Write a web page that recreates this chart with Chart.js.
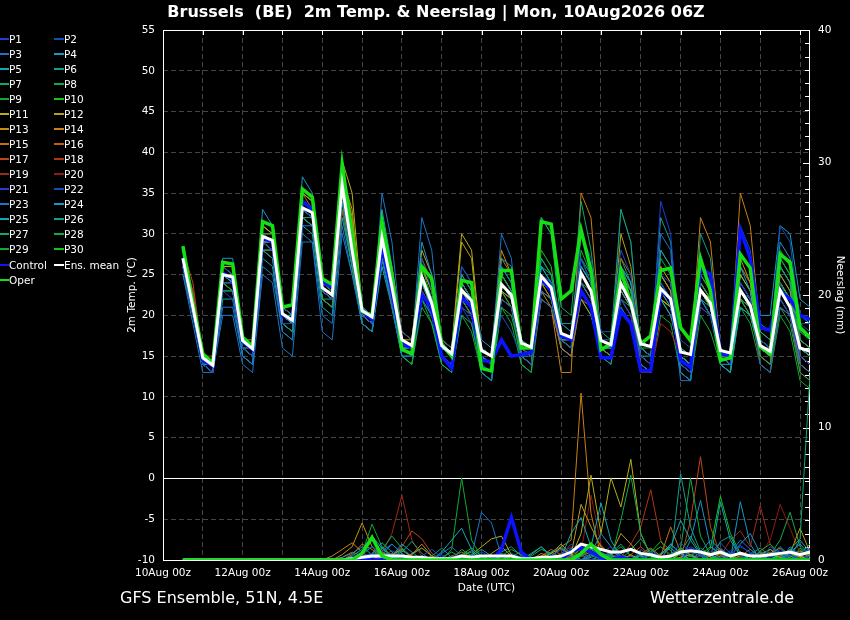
<!DOCTYPE html>
<html>
<head>
<meta charset="utf-8">
<title>Brussels 2m Temp. & Neerslag</title>
<script src="https://cdn.jsdelivr.net/npm/chart.js@4.4.1/dist/chart.umd.min.js"></script>
<style>
  body { margin: 0; background: #000; }
  #wrap { position: relative; width: 850px; height: 620px; background: #000; overflow: hidden;
          font-family: "DejaVu Sans", sans-serif; color: #fff; }
  #chart { position: absolute; left: 0; top: 0; }
  .title { position: absolute; top: 2px; left: 436px; transform: translateX(-50%); white-space: nowrap;
           font-weight: bold; font-size: 16px; line-height: 20px; }
  .foot { position: absolute; top: 588px; font-size: 16px; line-height: 20px; white-space: nowrap; }
  .leg { position: absolute; font-size: 10.5px; line-height: 14px; white-space: nowrap; padding-left: 10px; }
  .leg i { position: absolute; left: 0; top: 6px; width: 10px; height: 2px; }
</style>
</head>
<body>
<div id="wrap">
  <canvas id="chart" width="850" height="620"></canvas>
  <div class="title">Brussels&nbsp; (BE)&nbsp; 2m Temp. &amp; Neerslag | Mon, 10Aug2026 06Z</div>
  <div class="foot" style="left:120px">GFS Ensemble, 51N, 4.5E</div>
  <div class="foot" style="left:650px">Wetterzentrale.de</div>
  <div id="legend"></div>
</div>
<script>
// time axis: hours after 10Aug 00z, one value every 6 h starting 10Aug 12z
const firstHour = 12, stepHours = 6;
const tickLabels = ["10Aug 00z","12Aug 00z","14Aug 00z","16Aug 00z","18Aug 00z","20Aug 00z","22Aug 00z","24Aug 00z","26Aug 00z"];

const memberNames = ["P1","P2","P3","P4","P5","P6","P7","P8","P9","P10","P11","P12","P13","P14","P15",
  "P16","P17","P18","P19","P20","P21","P22","P23","P24","P25","P26","P27","P28","P29","P30"];

// 2m temperature (°C)
const tMean = [27,21, 14.8,13.9,25,24.7, 16.9,15.9,29.7,29.2, 20.2,19.4,33.2,32.6, 23.4,22.5,36,28, 20.6,19.8,29.5,23.5, 17,16.3,24.7,21.5, 16.3,15.3,23.1,21.8, 15.7,15,23.8,22.5, 16.6,16.1,24.8,23.4, 17.8,17.3,25.2,23, 16.9,16.4,23.9,21.5, 16.5,16.2,23.3,22, 15.5,15.2,23.1,21.5, 15.7,15.4,23.1,21.2, 16.3,15.6,23.1,21, 16,15.6];
const tOper = [28.5,21.5, 15.3,14.2,26.5,26.3, 17.3,16.2,31.5,31, 21,21.3,35.5,34.5, 24.5,23.8,38.5,30, 20.5,20,31.5,25, 15.8,15.3,26,24.5, 16.5,15,24.3,24, 13.5,13.2,25.5,25.5, 16,16,31.5,31.2, 22,23,30.5,25.5, 15.8,16.5,25.5,21.5, 16.5,17.5,25.5,25.8, 18.5,16.9,27,23, 14.5,14.8,27.5,25.8, 16.1,15.3,27.5,26.5, 18.5,17.3];
const tControl = [27,21, 14.5,13.8,25.2,24.5, 16.8,15.8,29.5,29, 20,19.5,34,33, 24,23.5,36.5,29, 20.5,19.5,28.5,23, 16.5,16,22.5,21, 15,13.5,22.2,21, 14.5,14.3,17,15, 15.2,15.5,24.5,23, 17.5,17,23,21, 14.8,14.8,20.5,19, 13.2,13.2,23,22, 14.5,13.6,25.8,25, 15.3,15,30.5,27, 18.5,18.2,23,22, 20,19.5];

const tP1 = [26,21, 14,13,24,24, 16,15,29,28, 19,19,33,32, 23,22,35,27, 20,19,28,22, 16,15,23,20, 15,14,21,20, 14,13,22,21, 16,15,25,24, 18,17,27,24, 17,16,22,20, 15,14,25,24, 14,13,21,20, 15,14,24,22, 17,16,22,20, 15,14];
const tP2 = [27,22, 15,14,26,25, 17,16,30,29, 21,20,34,33, 24,23,37,29, 21,20,31,25, 18,17,27,23, 17,16,26,24, 16,15,20,18, 15,14,22,21, 17,16,30,27, 18,18,28,25, 16,15,24,22, 17,16,26,24, 16,15,31,28, 17,16,24,21, 19,18];
const tP3 = [25,20, 14,13,21,21, 15,14,26,25, 18,17,30,29, 20,19,31,25, 19,18,27,21, 15,15,22,20, 15,14,24,22, 13,12,26,24, 15,15,23,22, 19,18,24,22, 17,17,21,19, 14,13,30,28, 13,12,22,20, 16,15,24,22, 14,13,21,20, 14,13];
const tP4 = [28,22, 15,14,27,27, 17,16,33,31, 21,20,37,35, 24,24,38,30, 21,20,33,26, 17,16,29,25, 16,15,25,23, 17,16,27,26, 16,16,25,24, 18,17,26,24, 15,14,23,21, 17,16,28,26, 15,14,26,24, 14,13,26,23, 18,17,29,27, 20,19];
const tP5 = [26,21, 14,14,25,24, 17,16,29,29, 20,19,33,32, 23,22,35,28, 20,19,27,22, 16,16,24,21, 15,14,23,21, 16,15,24,22, 16,16,26,24, 17,17,26,24, 16,16,24,22, 16,15,22,20, 16,15,22,21, 14,14,21,20, 16,15,22,20, 16,15];
const tP6 = [27,21, 15,14,23,23, 16,15,28,28, 20,19,32,31, 22,22,34,28, 21,20,29,23, 17,16,25,22, 16,15,22,21, 15,14,25,23, 17,16,27,25, 19,19,23,21, 17,16,26,23, 15,15,24,22, 14,13,30,27, 15,14,23,21, 17,16,26,24, 15,14];
const tP7 = [28,22, 15,14,26,25, 17,16,30,30, 21,20,34,33, 24,23,37,30, 20,19,30,24, 17,16,24,21, 16,15,23,22, 15,14,24,22, 17,16,32,30, 21,20,34,28, 18,17,33,29, 16,15,22,20, 15,14,24,22, 16,15,23,21, 19,18,26,24, 17,16];
const tP8 = [27,21, 14,13,25,24, 16,15,28,27, 19,18,32,31, 22,21,34,26, 19,18,27,21, 15,14,22,19, 14,13,20,19, 13,12,21,20, 15,14,23,22, 17,16,24,23, 16,15,22,21, 15,14,23,21, 14,13,22,20, 14,13,22,20, 15,14,21,19, 13,12];
const tP9 = [26,20, 14,14,24,23, 16,16,29,28, 20,19,33,32, 23,22,36,29, 21,20,30,24, 17,16,25,22, 16,15,22,20, 15,14,25,23, 17,16,26,25, 18,17,26,24, 17,16,25,23, 16,16,27,25, 16,15,25,23, 16,15,24,22, 16,15,28,26, 18,17];
const tP10 = [28,21, 15,14,24,24, 17,16,30,29, 20,20,33,33, 23,23,36,28, 20,19,29,23, 17,16,26,22, 16,15,24,22, 16,15,23,21, 16,15,24,23, 18,17,25,23, 17,16,24,22, 16,15,23,22, 15,14,23,21, 16,15,22,21, 16,16,24,22, 16,15];
const tP11 = [27,21, 15,14,26,26, 17,16,31,30, 21,20,35,34, 24,23,39,35, 21,20,30,24, 17,17,28,25, 17,16,30,28, 16,15,22,21, 16,15,24,23, 18,17,23,21, 17,16,23,21, 17,16,22,21, 16,15,23,22, 16,15,25,23, 16,15,24,22, 15,14];
const tP12 = [26,22, 15,14,25,25, 17,16,29,29, 20,19,33,33, 23,22,37,33, 20,20,28,23, 16,16,24,21, 16,15,29,27, 15,14,23,22, 16,16,24,23, 17,17,22,20, 16,16,30,26, 16,15,22,21, 15,14,23,21, 15,15,22,20, 17,16,23,22, 16,15];
const tP13 = [27,21, 15,14,25,25, 17,16,30,29, 20,19,34,33, 23,22,38,31, 20,19,30,24, 17,16,26,23, 16,15,24,22, 16,15,28,25, 16,15,24,22, 17,16,25,23, 17,16,26,23, 16,15,25,23, 15,14,23,21, 15,14,27,24, 16,15,25,23, 16,15];
const tP14 = [27,22, 15,14,26,26, 17,17,31,30, 21,20,35,34, 24,23,38,32, 21,20,31,26, 18,17,26,23, 17,16,25,23, 15,14,25,23, 15,14,23,21, 13,13,35,32, 17,16,25,23, 16,15,26,24, 16,15,32,29, 16,15,35,31, 18,17,26,24, 17,16];
const tP15 = [26,21, 14,13,24,24, 16,15,29,28, 20,19,33,32, 22,21,36,29, 20,19,29,23, 16,15,25,22, 15,14,22,20, 15,14,27,25, 15,14,22,21, 16,15,22,21, 16,15,24,22, 14,13,23,21, 15,14,24,22, 15,14,23,21, 15,14,23,21, 14,13];
const tP16 = [27,22, 15,14,26,25, 17,16,30,30, 21,20,35,33, 24,23,37,30, 21,20,30,25, 18,17,27,24, 17,16,24,22, 16,15,23,21, 17,16,24,22, 18,17,24,22, 16,15,27,25, 17,16,25,23, 16,15,25,23, 15,14,26,24, 17,16,22,20, 13,12];
const tP17 = [28,24, 15,14,25,25, 17,16,29,28, 20,19,33,32, 23,22,35,29, 20,19,28,23, 16,15,24,22, 16,15,23,21, 15,14,23,22, 16,15,24,23, 17,16,24,22, 16,15,23,21, 16,15,22,21, 15,14,23,22, 16,15,22,21, 16,15,24,22, 15,14];
const tP18 = [27,23, 15,15,24,23, 16,15,28,28, 19,19,32,31, 22,21,33,27, 20,19,28,22, 16,15,23,21, 15,14,22,20, 15,14,24,22, 16,15,23,22, 17,16,25,23, 16,15,22,20, 15,14,22,20, 15,14,21,20, 16,15,23,21, 15,14,21,20, 16,15];
const tP19 = [26,22, 14,14,25,24, 16,15,29,29, 20,19,32,31, 23,22,34,27, 20,19,27,22, 16,15,24,21, 15,14,23,21, 16,15,25,23, 17,16,25,23, 18,17,26,24, 17,16,23,21, 13,13,19,18, 15,14,23,21, 16,15,23,21, 14,13,21,20, 14,13];
const tP20 = [27,23, 15,14,25,25, 17,16,30,29, 20,19,34,33, 23,22,36,28, 21,20,29,24, 17,16,25,22, 16,15,23,21, 16,15,24,22, 16,15,25,23, 18,17,25,23, 17,16,24,22, 16,15,24,22, 15,14,24,22, 16,15,24,22, 16,15,23,21, 15,14];
const tP21 = [27,21, 14,13,23,22, 16,15,28,27, 19,18,31,31, 22,21,34,27, 20,19,28,22, 16,15,23,20, 15,14,21,19, 14,13,24,22, 16,15,24,23, 17,16,24,22, 16,15,22,20, 15,14,34,30, 15,14,22,20, 16,15,26,24, 17,16,24,22, 17,16];
const tP22 = [26,21, 14,13,25,24, 16,16,29,28, 20,19,33,32, 23,22,35,28, 20,19,29,23, 16,15,24,21, 15,14,22,20, 14,13,23,22, 16,15,24,23, 17,16,24,22, 16,15,33,29, 15,14,23,21, 15,14,23,21, 15,14,22,21, 17,16,31,29, 19,19];
const tP23 = [25,19, 13,13,20,20, 14,13,25,24, 16,15,29,29, 18,17,30,25, 19,18,35,29, 17,16,32,28, 16,15,26,24, 16,15,30,27, 15,14,22,21, 16,15,24,22, 17,16,22,20, 14,13,25,23, 12,12,22,20, 16,15,23,22, 17,16,23,21, 18,17];
const tP24 = [27,21, 14,13,24,23, 15,14,28,27, 19,18,32,31, 22,21,33,26, 20,19,27,22, 16,15,25,22, 15,14,24,22, 14,13,25,23, 15,14,26,24, 16,15,23,21, 16,15,26,24, 16,15,24,22, 14,13,24,22, 15,14,25,23, 20,20,31,30, 22,21];
const tP25 = [26,20, 14,13,22,22, 15,14,27,26, 18,17,31,30, 21,20,32,26, 19,18,26,21, 15,15,23,21, 15,14,23,21, 14,13,24,22, 15,14,23,22, 16,15,26,24, 16,15,23,21, 15,14,25,23, 13,12,24,22, 14,13,21,20, 15,14,25,23, 16,15];
const tP26 = [27,21, 15,14,25,24, 17,16,29,28, 20,19,33,32, 23,22,35,28, 20,19,29,23, 16,16,25,22, 16,15,24,22, 16,15,26,24, 16,15,25,23, 17,16,27,25, 16,15,26,24, 17,16,32,29, 16,15,23,21, 15,14,22,21, 16,15,24,22, 16,15];
const tP27 = [28,22, 15,14,24,23, 16,15,28,28, 19,18,32,32, 22,21,34,27, 19,18,27,22, 15,14,22,20, 14,13,21,20, 13,12,22,21, 14,13,32,30, 19,18,30,26, 17,16,27,24, 16,15,26,24, 15,14,24,22, 15,14,23,21, 17,16,27,25, 14,13];
const tP28 = [27,21, 14,14,25,25, 17,16,30,29, 20,19,33,33, 23,22,36,29, 21,20,30,25, 17,16,25,22, 16,15,23,21, 15,14,24,22, 16,15,27,25, 18,17,28,25, 17,16,25,23, 16,15,25,23, 15,14,23,21, 16,15,25,23, 16,15,26,24, 17,16];
const tP29 = [26,21, 14,13,23,23, 16,15,28,27, 19,18,31,31, 22,21,33,26, 19,18,27,22, 15,14,21,19, 14,13,20,18, 13,12,21,19, 14,13,22,21, 16,15,22,20, 15,14,21,19, 14,13,20,19, 13,12,20,18, 14,13,21,19, 14,13,20,18, 12,11];
const tP30 = [28,22, 15,14,26,26, 17,16,31,30, 21,20,35,34, 24,23,38,31, 21,20,31,25, 17,16,26,23, 16,15,24,22, 16,15,26,24, 17,16,28,26, 18,17,27,24, 17,16,26,24, 16,15,28,26, 15,14,25,23, 16,15,26,24, 17,16,27,25, 17,16];

// 6-hourly precipitation (mm)
const rMean = [0,0,0,0,0,0,0,0,0,0,0,0,0,0, 0,0,0,0.1,0.2,0.3,0.3,0.3,0.3,0.2, 0.2,0.1,0.1,0.1,0.3,0.2,0.3,0.3,0.3,0.3, 0.1,0.1,0.2,0.2,0.3,0.6,1.2,1.0,0.8,0.6, 0.6,0.8,0.5,0.4,0.2,0.3,0.6,0.7,0.6,0.4, 0.6,0.3,0.5,0.3,0.3,0.4,0.5,0.6,0.4,0.6];
const rOper = [0,0,0,0,0,0,0,0,0,0,0,0,0,0, 0,0,0,0,0.5,1.7,0.3,0,0,0, 0,0,0,0,0,0,0,0,0,0, 0,0,0,0,0,0,0.5,1.2,0.4,0, 0,0,0,0,0,0,0,0,0,0, 0,0,0,0,0,0,0,0,0,0];
const rControl = [0,0,0,0,0,0,0,0,0,0,0,0,0,0, 0,0,0,0,0,0,0,0,0,0, 0,0,0,0,0,0,0,0,0.8,3.2, 0.6,0,0,0,0,0.7,0.9,0.6,0.2,0, 0.2,0,0,0,0,0,0,0,0,0, 0,0,0,0,0,0,0,0,0,0];

const rP1 = [0,0,0,0,0,0,0,0,0,0,0,0,0,0, 0,0,0,0,0.3,0.5,0,0,0.2,0, 0,0,0.4,0,0,0,0.6,0.2,0,0, 0,0,0,0.3,0.8,0.2,0,0,0.5,1.0, 0.3,0,0,0.6,0.2,0,0,0.9,0.4,0, 0,0.3,1.1,0.5,0,0.2,0.8,0.4,0,0.3];
const rP2 = [0,0,0,0,0,0,0,0,0,0,0,0,0,0, 0,0,0,0.2,0.6,1.0,0.4,0,0,0, 0.3,0.8,0.2,0,0,0,0,0,0.5,0, 0,0,0,0,0.4,1.2,0.6,0,0,0, 0.5,0.9,0.2,0,0,0.3,1.3,0.6,0,0, 0.2,0.7,0.3,0,0,1.0,0.6,0,0.4,0.8];
const rP3 = [0,0,0,0,0,0,0,0,0,0,0,0,0,0, 0,0,0,0,0,0.2,0.7,1.2,0.5,0, 0,0,0.5,1.0,0.3,0.3,3.6,2.8,0.3,0, 0,0,0,0.2,0,0,0.4,0,0,0.6, 0.3,0,0,0.4,0,0,0,0.7,0.3,0, 0,0.5,1.5,0.8,0.2,0,0,1.0,0.4,0];
const rP4 = [0,0,0,0,0,0,0,0,0,0,0,0,0,0, 0,0,0.2,0.5,1.0,0.4,0,0.3,1.2,0.6, 0,0,0,0.3,0,0,0,0,0,0, 0,0.4,1.0,0.3,0,0,0,0.5,2.0,1.0, 0,0,0.4,0,0,1.2,0.5,0,0.6,1.5, 0.8,0.3,1.2,2.0,0.5,0,0,0.6,1.2,0.4];
const rP5 = [0,0,0,0,0,0,0,0,0,0,0,0,0,0, 0,0,0,0.3,0.8,1.8,0.9,0.2,0,0, 0,0,0.6,1.5,2.4,0.8,0,0,0,0.3, 0,0,0,0,0.2,2.0,3.2,1.0,4.3,1.5, 0.2,0,0,0,0.5,1.0,3.0,1.5,0.4,0, 0.6,0,0,0.3,0,0,0.5,0.2,1.5,0.6];
const rP6 = [0,0,0,0,0,0,0,0,0,0,0,0,0,0, 0,0,0,0,0.2,0.5,1.3,0.6,0,0, 0,0.3,0.9,0.2,0,0,0,0.4,0,0, 0,0,0,0.6,1.0,0.3,0,0,0,0.4, 0,0,0.3,0,0,0,6.5,2.5,0.6,0, 1.4,1.8,0.3,0,0,0.4,1.0,0.3,0,0];
const rP7 = [0,0,0,0,0,0,0,0,0,0,0,0,0,0, 0,0,0,0,0.4,1.0,0.5,0.2,0.6,1.4, 0.5,0,0,0,0.8,0.3,0,0,0,0, 0,0,0,0.3,0,0.9,0,0.2,0.5,0.3, 0,0.8,1.6,0.6,0,0.4,0.9,0.3,0,0, 0.3,0,0,0.5,0.2,0,0,0.8,1.6,14.0];
const rP8 = [0,0,0,0,0,0,0,0,0,0,0,0,0,0, 0,0,0,0,0,0.3,0.8,1.8,0.9,0, 0,0,0.2,0.6,0.2,0,0,0,0,0.3, 0.6,0.2,0,0,0,0,1.0,0.5,0,0, 3.0,6.4,2.0,0.3,0,0,0.8,6.2,1.8,0.4, 0,0,0,0,0.6,0.3,0,0,0.9,0];
const rP9 = [0,0,0,0,0,0,0,0,0,0,0,0,0,0, 0,0,0,0,0.5,2.7,1.0,0.3,0,0, 0,0,0,0.8,6.2,1.5,0.2,0,0.3,0.8, 0.4,0,0,0,0,0,0.3,0.8,0.4,0, 0,0,0.5,0.2,0,0,0,0.3,0.9,0.4, 0,0.4,0,0,0.7,1.2,0.5,0,0,0];
const rP10 = [0,0,0,0,0,0,0,0,0,0,0,0,0,0, 0,0,0,0,0,0.2,0.5,0.3,0,0, 0,0,0,0,0.4,0.9,0.3,0,0,0, 0,0.5,1.0,0.3,0,0,0,0,0.4,0.2, 0,0,0,0.6,1.4,0.7,0,0,0,0.9, 4.8,2.0,0.5,0,0,0,0.3,0.6,0,0];
const rP11 = [0,0,0,0,0,0,0,0,0,0,0,0,0,0, 0,0,0,0,0,0,0.2,0.4,0.8,0.2, 0,0,0,0,0,0.4,1.0,1.6,1.8,0.4, 0,0,0,0,0,0.2,2.0,6.4,2.0,6.2, 4.0,7.6,2.0,0.3,0,0,0.5,0,0,0.3, 0.8,0.2,0,0,0,0.4,0.2,0,0.3,0];
const rP12 = [0,0,0,0,0,0,0,0,0,0,0,0,0,0, 0,0,0,0,0,0.3,0,0,0,0, 0,0.2,0,0,0,0,0,0.5,1.0,0.3, 0,0,0,0.5,1.2,0.4,4.2,2.5,1.0,0.4, 2.0,1.2,0.3,0,0,0,0.2,0.4,0,0, 0,0,0.6,0.3,0,0,0,0.5,0.2,0];
const rP13 = [0,0,0,0,0,0,0,0,0,0,0,0,0,0, 0,0,0.4,1.0,2.8,1.0,0.3,0,0,0.4, 1.2,0.3,0,0,0,0,0,0,0,0, 0,0,0.2,0.5,0.9,0.3,0,0,0,0, 0,0.4,0,0,0.3,0,0,0,0.6,0.2, 0,0,0,0,0.4,0.8,0.2,0.5,2.4,0.6];
const rP14 = [0,0,0,0,0,0,0,0,0,0,0,0,0,0, 0,0.3,0.8,1.3,0.6,0,0,0,0.2,0, 0,0,0,0,0,0,0,0,0,0.3, 0,0,0.5,0.2,1.0,1.5,12.6,3.5,0.3,0, 0,0,0,0,0.4,1.2,0.5,0,0,0, 0.5,0,0,0.3,0,0,0,0.2,0.7,0.3];
const rP15 = [0,0,0,0,0,0,0,0,0,0,0,0,0,0, 0,0,0,0.4,1.2,0.8,0.2,0,0,0.5, 0.9,0.3,0,0,0,0,0,0,0,0, 0,0,0,0,0,0,0.3,0.6,0.2,0, 0,0,0.5,0.9,0.3,2.5,0.6,0,0,0, 0,0,0.3,0.8,0.2,0,0,0,0,0.4];
const rP16 = [0,0,0,0,0,0,0,0,0,0,0,0,0,0, 0,0,0.2,0.6,0.3,0,0,0,0,0, 0,0,0,0.3,0.6,0.2,0,0,0,0, 0,0,0.3,0.8,0.4,0,0,0,0,0, 0,0,0,0,0,0.3,0.9,0.4,0,0, 0.3,0,0,0,0,0.5,0.9,0.3,0,0];
const rP17 = [0,0,0,0,0,0,0,0,0,0,0,0,0,0, 0,0,0,0,0,0.2,0.6,0.3,1.0,2.2, 1.6,0.5,0,0,0,0,0,0,0,0, 0,0,0,0,0,0.3,0.8,0,0,0, 0,0.4,1.0,0.3,0,0,0,3.0,7.8,2.5, 0.4,0,0,0,0,0,0,0,0,0];
const rP18 = [0,0,0,0,0,0,0,0,0,0,0,0,0,0, 0,0,0,0,0,0,0.3,0.5,0.2,0, 0,0,0,0,0,0,0,0,0,0, 0,0,0,0,0,0,0.3,1.0,1.1,0.4, 0.2,1.2,2.5,5.3,1.5,0,0,0,0,0, 0,0,0.2,0,0,0,0,0,0,0];
const rP19 = [0,0,0,0,0,0,0,0,0,0,0,0,0,0, 0,0,0,0,0,0,0.5,2.0,4.9,1.5, 0.3,0,0,0,0,0,0,0,0,0, 0,0,0,0,0.5,1.0,0.3,0,0,0, 0,0,0,0,0,0,0,0,0,0, 0.3,1.5,2.2,1.0,4.1,1.2,0.2,0,0,0];
const rP20 = [0,0,0,0,0,0,0,0,0,0,0,0,0,0, 0,0,0,0,0,0,0,0,0,0, 0,0,0,0,0,0,0,0,0,0, 0,0,0,0,0,0,0.6,4.9,1.2,0, 0,0,0,0,0,0,0,0,0.4,0.6, 0.3,0,0,0,0.5,1.5,4.2,2.4,0.5,0];
const rP21 = [0,0,0,0,0,0,0,0,0,0,0,0,0,0, 0,0,0,0,0,0,0.3,0.7,0.3,0, 0,0,0,0,0,0,0,0,0,0, 0.3,0,0,0,0,0.5,1.0,0.8,0.4,0, 0,0.3,0,0,0,0,0.5,1.0,0.6,0.3, 0,0.4,1.0,0.6,0.2,0,0.6,0.3,0,0];
const rP22 = [0,0,0,0,0,0,0,0,0,0,0,0,0,0, 0,0,0,0,0,0.2,0,0.4,0.9,0.3, 0,0,0,0,0,0,0,0,0.2,0.5, 0.2,0,0,0,0,0,0.5,1.2,0.6,0, 0,0,0.8,0.3,0,0,0,0,0.3,0.6, 1.3,0.5,0,0,0,0.8,0.5,0,0.3,0.9];
const rP23 = [0,0,0,0,0,0,0,0,0,0,0,0,0,0, 0,0,0,0,0,0.5,1.0,0.3,0,0, 0,0.2,0,0,0,0,0,0,0,0, 0,0,0,0,0,0,0,0.4,0.9,0.3, 0,0,0,0,0,0,0,0,0,0.5, 0.9,0.3,0,0,0.4,0.8,0.4,0,0,0];
const rP24 = [0,0,0,0,0,0,0,0,0,0,0,0,0,0, 0,0,0,0,0,0,0.4,1.2,0.5,0, 0,0,0,0,0,0,0,0,0.6,1.0, 0.3,0,0,0,0,0.4,0,0,0,0, 0,0,0.3,0.8,0.2,0,0,1.5,4.5,1.0, 0.4,0,4.4,1.2,0,0,0,0,0.6,0.2];
const rP25 = [0,0,0,0,0,0,0,0,0,0,0,0,0,0, 0,0,0,0,0,0.3,0.6,0.2,0,0, 0,0,0,0,0,0.3,0.8,0.3,0,0, 0,0,0,0,0,0,0,0.3,0.6,0.2, 0,0,0,0,0.4,0.9,0.3,0,0,0, 4.4,1.5,0.3,0,0,0,0.3,0.8,0.4,0];
const rP26 = [0,0,0,0,0,0,0,0,0,0,0,0,0,0, 0,0,0,0,0,0,0,0,0,0.4, 0.9,0.3,0,0,0,0,0,0,0,0, 0,0,0,0.3,0.8,0.5,0,0,0,0, 0.5,0,0,0,0,0.3,0.7,0.4,0,0, 0,0.3,0.6,0.3,0,0,0,0,0.5,1.2];
const rP27 = [0,0,0,0,0,0,0,0,0,0,0,0,0,0, 0,0,0,0,0,0.4,0.9,0.3,0,0, 0,0,0,0,0.3,0.6,0,0,0,0, 0,0.3,0.8,0.5,0,0,0,0,0.3,0.5, 1.2,0.3,0,0,0,0,0.6,1.8,0.5,0, 0,0,0,0.4,0.9,0.3,0,0,0,0];
const rP28 = [0,0,0,0,0,0,0,0,0,0,0,0,0,0, 0,0,0,0,0,0,0,0.3,0.7,0.3, 0,0,0,0,0,0,0,0.2,0.5,0.2, 0,0,0,0,0,0,0,0,0,0.4, 1.0,0.3,0,0,0,0,0,0,0.4,1.0, 0.5,0,0,0,0,0.4,1.5,3.6,1.0,0.3];
const rP29 = [0,0,0,0,0,0,0,0,0,0,0,0,0,0, 0,0,0,0,0,0,0.3,0,0,0, 0,0,0,0,0,0,0,0,0,0, 0,0,0.3,0.6,0.2,0,0,0,0,0, 0,0,0,0,0,0.4,0.8,0.3,0,0, 0,0,0,0,0.3,0.6,0.2,0,0,0];
const rP30 = [0,0,0,0,0,0,0,0,0,0,0,0,0,0, 0,0,0,0,0,0.2,0.6,0.3,0,0, 0,0,0,0,0.3,0.7,0.2,0,0,0, 0,0,0,0,0,0,0.4,0.9,0.3,0, 0,0,0,0.5,1.0,0.4,0,0,0,0, 0.2,0.5,0.2,0,0,0,0.3,0.6,0.3,0];

const tMembers = [tP1,tP2,tP3,tP4,tP5,tP6,tP7,tP8,tP9,tP10,tP11,tP12,tP13,tP14,tP15,tP16,tP17,tP18,tP19,tP20,
  tP21,tP22,tP23,tP24,tP25,tP26,tP27,tP28,tP29,tP30];
const rMembers = [rP1,rP2,rP3,rP4,rP5,rP6,rP7,rP8,rP9,rP10,rP11,rP12,rP13,rP14,rP15,rP16,rP17,rP18,rP19,rP20,
  rP21,rP22,rP23,rP24,rP25,rP26,rP27,rP28,rP29,rP30];

// colour cycle of the members (P21..P30 reuse P1..P10)
const memberColors = ["#1f3fd6","#1450b4","#1a76c4","#1896c6","#10a8b4","#0ea08a","#10a866","#10aa4c","#12a830","#12c21e",
  "#b4b012","#b8a012","#c49012","#c88012","#c07016","#bc5e14","#b84818","#ac3618","#a02818","#8c1c14"];
const controlColor = "#0a14ff", meanColor = "#ffffff", operColor = "#14e014";

const hours = tMean.map((_, i) => firstHour + stepHours * i);

Chart.defaults.font.family = "DejaVu Sans";
Chart.defaults.font.size = 10.5;
Chart.defaults.color = "#fff";

let datasets = [];
tMembers.forEach((d, i) => {
  datasets.push({ label: memberNames[i], data: d, yAxisID: "y", borderColor: memberColors[i % 20], borderWidth: 1, order: 10 });
});
rMembers.forEach((d, i) => {
  datasets.push({ label: memberNames[i] + " rr", data: d, yAxisID: "y1", borderColor: memberColors[i % 20], borderWidth: 1, order: 10 });
});
datasets.push({ label: "Control", data: tControl, yAxisID: "y", borderColor: controlColor, borderWidth: 3.5, order: 3 });
datasets.push({ label: "Oper", data: tOper, yAxisID: "y", borderColor: operColor, borderWidth: 3.5, order: 2 });
datasets.push({ label: "Ens. mean", data: tMean, yAxisID: "y", borderColor: meanColor, borderWidth: 3, order: 1 });
datasets.push({ label: "Control rr", data: rControl, yAxisID: "y1", borderColor: controlColor, borderWidth: 3.5, order: 3 });
datasets.push({ label: "Ens. mean rr", data: rMean, yAxisID: "y1", borderColor: meanColor, borderWidth: 3, order: 2 });
datasets.push({ label: "Oper rr", data: rOper, yAxisID: "y1", borderColor: operColor, borderWidth: 3.5, order: 1 });

// white frame, 0 °C line and inward ticks on top / right
const framePlugin = {
  id: "framePlugin",
  beforeDatasetsDraw(chart) {
    const { ctx, chartArea: a, scales } = chart;
    ctx.save();
    ctx.strokeStyle = "#fff";
    ctx.lineWidth = 1;
    ctx.strokeRect(a.left + 0.5, a.top + 0.5, a.right - a.left - 1, a.bottom - a.top);
    const y0 = Math.round(scales.y.getPixelForValue(0)) + 0.5;
    ctx.beginPath();
    ctx.moveTo(a.left, y0); ctx.lineTo(a.right, y0);
    for (let h = 24; h < 390; h += 24) {
      const x = Math.round(scales.x.getPixelForValue(h)) + 0.5;
      ctx.moveTo(x, a.top); ctx.lineTo(x, a.top + 5);
    }
    for (let v = 1; v < 40; v++) {
      const y = Math.round(scales.y1.getPixelForValue(v)) + 0.5;
      const len = v % 10 === 0 ? 7 : 5;
      ctx.moveTo(a.right - len, y); ctx.lineTo(a.right, y);
    }
    ctx.stroke();
    ctx.restore();
  }
};

new Chart(document.getElementById("chart"), {
  type: "line",
  data: { labels: hours, datasets: datasets },
  options: {
    responsive: false,
    animation: false,
    events: [],
    layout: { padding: { left: 122, right: 0, top: 30, bottom: 21 } },
    elements: { point: { radius: 0 }, line: { tension: 0 } },
    plugins: { legend: { display: false }, tooltip: { enabled: false } },
    scales: {
      x: {
        type: "linear", min: 0, max: 390,
        afterFit(s) { s.height = 39; },
        ticks: {
          stepSize: 24, autoSkip: false, maxRotation: 0, includeBounds: false, padding: 7,
          callback: (v) => (v % 48 === 0 ? tickLabels[v / 48] : "")
        },
        grid: { color: "#454545", drawTicks: false },
        border: { display: false, dash: [5, 3] },
        title: { display: true, text: "Date (UTC)" }
      },
      y: {
        position: "left", min: -10, max: 55,
        afterFit(s) { s.width = 41; },
        ticks: { stepSize: 5, padding: 8 },
        grid: { color: "#454545", drawTicks: false },
        border: { display: false, dash: [5, 3] },
        title: { display: true, text: "2m Temp. (°C)" }
      },
      y1: {
        position: "right", min: 0, max: 40,
        afterFit(s) { s.width = 40; },
        ticks: { stepSize: 10, padding: 8 },
        grid: { drawOnChartArea: false, drawTicks: false },
        border: { display: false },
        title: { display: true, text: "Neerslag (mm)" }
      }
    }
  },
  plugins: [framePlugin]
});

// legend in two columns on the left
const legendItems = memberNames.map((n, i) => [n, memberColors[i % 20]])
  .concat([["Control", controlColor], ["Ens. mean", meanColor], ["Oper", operColor]]);
const legend = document.getElementById("legend");
legendItems.forEach(([name, col], k) => {
  const row = Math.floor(k / 2);
  const y = 39 + 15 * row + (row >= 15 ? 1 : 0);
  const div = document.createElement("div");
  div.className = "leg";
  div.style.left = (k % 2 ? 54 : -1) + "px";
  div.style.top = (y - 7) + "px";
  div.innerHTML = '<i style="background:' + col + '"></i>' + name;
  legend.appendChild(div);
});
</script>
</body>
</html>
